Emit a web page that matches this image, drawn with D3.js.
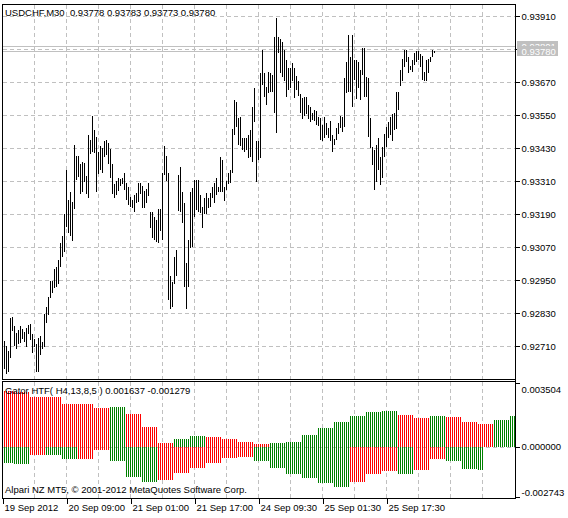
<!DOCTYPE html>
<html>
<head>
<meta charset="utf-8">
<script src="https://cdn.jsdelivr.net/npm/d3@7"></script>
<style>
html,body{margin:0;padding:0;background:#fff;}
svg{display:block;}
text{font-family:"Liberation Sans",Arial,sans-serif;font-size:9.5px;fill:#000;white-space:pre;}
</style>
</head>
<body>
<script>
// chart texts
const symbolTitle="USDCHF,M30  0.93778 0.93783 0.93773 0.93780";
const gatorTitle="Gator HTF( H4,13,8,5 ) 0.001637 -0.001279";
const copyright="Alpari NZ MT5, \u00a9 2001-2012 MetaQuotes Software Corp.";

// M30 bars, high / low (bar 1 = first visible)
const highs=[0.92729,0.92710,0.92693,0.92810,0.92816,0.92782,0.92758,0.92768,0.92782,0.92771,
0.92762,0.92777,0.92786,0.92790,0.92753,0.92737,0.92719,0.92740,0.92746,0.92725,
0.92828,0.92852,0.92889,0.92947,0.92947,0.92989,0.92998,0.93022,0.93086,0.93109,
0.93189,0.93351,0.93242,0.93270,0.93234,0.93440,0.93400,0.93400,0.93373,0.93379,
0.93376,0.93327,0.93476,0.93458,0.93545,0.93494,0.93470,0.93416,0.93436,0.93428,
0.93456,0.93458,0.93448,0.93424,0.93371,0.93298,0.93310,0.93319,0.93315,0.93322,
0.93337,0.93301,0.93288,0.93252,0.93242,0.93258,0.93267,0.93301,0.93303,0.93291,
0.93274,0.93279,0.93301,0.93198,0.93198,0.93180,0.93166,0.93207,0.93207,0.93340,
0.93437,0.93401,0.93338,0.92965,0.92944,0.93035,0.93059,0.93332,0.93362,0.93271,
0.93229,0.93011,0.93095,0.93271,0.93283,0.93313,0.93313,0.93313,0.93259,0.93216,
0.93247,0.93265,0.93247,0.93265,0.93289,0.93301,0.93319,0.93289,0.93398,0.93384,
0.93289,0.93311,0.93338,0.93350,0.93497,0.93602,0.93598,0.93537,0.93541,0.93465,
0.93465,0.93465,0.93477,0.93495,0.93577,0.93646,0.93453,0.93453,0.93701,0.93786,
0.93701,0.93652,0.93707,0.93701,0.93695,0.93834,0.93901,0.93834,0.93824,0.93816,
0.93786,0.93749,0.93719,0.93719,0.93737,0.93719,0.93691,0.93674,0.93626,0.93610,
0.93614,0.93614,0.93586,0.93577,0.93556,0.93568,0.93565,0.93541,0.93537,0.93513,
0.93541,0.93519,0.93501,0.93528,0.93477,0.93461,0.93501,0.93519,0.93546,0.93541,
0.93683,0.93740,0.93840,0.93759,0.93840,0.93749,0.93749,0.93740,0.93711,0.93792,
0.93792,0.93689,0.93683,0.93537,0.93434,0.93422,0.93440,0.93465,0.93398,0.93434,
0.93480,0.93507,0.93525,0.93543,0.93553,0.93556,0.93634,0.93634,0.93713,0.93752,
0.93786,0.93786,0.93761,0.93728,0.93749,0.93776,0.93780,0.93780,0.93771,0.93764,
0.93707,0.93749,0.93752,0.93761,0.93786,0.93783];
const lows=[0.92625,0.92610,0.92616,0.92665,0.92765,0.92710,0.92698,0.92719,0.92722,0.92734,
0.92725,0.92705,0.92753,0.92731,0.92685,0.92705,0.92616,0.92616,0.92679,0.92698,
0.92707,0.92794,0.92822,0.92883,0.92903,0.92919,0.92925,0.92935,0.92998,0.93034,
0.93052,0.93143,0.93119,0.93109,0.93092,0.93206,0.93313,0.93325,0.93264,0.93270,
0.93307,0.93264,0.93246,0.93407,0.93416,0.93410,0.93270,0.93334,0.93349,0.93339,
0.93397,0.93403,0.93373,0.93319,0.93264,0.93246,0.93258,0.93273,0.93291,0.93298,
0.93276,0.93242,0.93222,0.93216,0.93210,0.93198,0.93228,0.93234,0.93264,0.93213,
0.93213,0.93228,0.93255,0.93138,0.93101,0.93095,0.93087,0.93083,0.93126,0.93095,
0.93332,0.93311,0.92877,0.92845,0.92853,0.92936,0.92966,0.93202,0.93198,0.93156,
0.92923,0.92843,0.92926,0.93065,0.93069,0.93180,0.93204,0.93198,0.93192,0.93138,
0.93190,0.93190,0.93210,0.93214,0.93247,0.93231,0.93259,0.93271,0.93271,0.93271,
0.93235,0.93277,0.93299,0.93301,0.93338,0.93477,0.93505,0.93440,0.93437,0.93422,
0.93416,0.93422,0.93392,0.93398,0.93380,0.93525,0.93307,0.93386,0.93392,0.93658,
0.93616,0.93586,0.93628,0.93634,0.93631,0.93556,0.93485,0.93774,0.93701,0.93689,
0.93671,0.93614,0.93640,0.93646,0.93671,0.93610,0.93640,0.93619,0.93556,0.93534,
0.93546,0.93553,0.93534,0.93525,0.93531,0.93529,0.93513,0.93510,0.93459,0.93453,
0.93465,0.93477,0.93465,0.93453,0.93413,0.93440,0.93459,0.93480,0.93501,0.93489,
0.93507,0.93628,0.93634,0.93634,0.93577,0.93677,0.93606,0.93646,0.93604,0.93695,
0.93616,0.93614,0.93468,0.93428,0.93368,0.93277,0.93307,0.93350,0.93295,0.93319,
0.93398,0.93434,0.93465,0.93477,0.93456,0.93495,0.93497,0.93568,0.93655,0.93674,
0.93723,0.93740,0.93701,0.93711,0.93707,0.93731,0.93740,0.93749,0.93725,0.93677,
0.93674,0.93671,0.93703,0.93740,0.93761,0.93773];
const bid=0.93780, ask=0.93801;
const priceTicks=[0.93910,0.93790,0.93670,0.93550,0.93430,0.93310,0.93190,0.93070,0.92950,0.92830,0.92710];

// Gator HTF, one value per H4 block (8 M30 bars)
const gatorUpper=[0.003040,0.003025,0.002760,0.002745,0.002357,0.002345,0.002138,0.002192,0.001827,0.001096,
0.000238,0.000438,0.000603,0.000548,0.000438,0.000292,0.000183,0.000190,0.000292,0.000658,
0.001060,0.001370,0.001699,0.001918,0.001973,0.001772,0.001589,0.001699,0.001644,0.001370,
0.001279,0.001480,0.001700];
const gatorLower=[-0.000895,-0.000932,-0.000438,-0.000445,-0.000658,-0.000650,-0.000164,-0.000749,-0.001644,-0.001900,
-0.001790,-0.001443,-0.001151,-0.000877,-0.000603,-0.000548,-0.000767,-0.001151,-0.001498,-0.001681,
-0.001991,-0.002174,-0.001900,-0.001498,-0.001297,-0.001498,-0.001261,-0.000658,-0.000749,-0.001224,
-0.001240];
const gatorUpperPrev=0.003100, gatorLowerPrev=-0.000850;
const gatorTicks=[0.003504,0,-0.002743];

// time axis
const timeLabels=["19 Sep 2012","20 Sep 09:00","21 Sep 01:00","21 Sep 17:00","24 Sep 09:30","25 Sep 01:30","25 Sep 17:30"];
const timeLabelBars=[0,32,64,96,128,160,192];

const W=568,H=518;
const left=2.5,right=515.5,priceTop=4.5,priceBottom=379.5,gatorTop=381.5,gatorBottom=498.5;
const lastUpperBar=256,lastLowerBar=240;
const GRID="#c0c0c0",RED="#ff0000",GREEN="#008000";

let x=d3.scaleLinear().domain([0,256]).range([2.5,514.5]);
let yPrice=d3.scaleLinear().domain([0.92710,0.93910]).range([346,15.7]);
let yGator=d3.scaleLinear().domain([-0.002743,0.003504]).range([497,383]);

let svg=d3.select("body").append("svg").attr("width",W).attr("height",H)
    .attr("shape-rendering","crispEdges");

// grid
let grid=svg.append("g").attr("stroke",GRID).attr("stroke-dasharray","4,3");
let gridBars=d3.range(16,241,16);
grid.selectAll("line.vp").data(gridBars).enter().append("line")
    .attr("x1",d=>x(d)).attr("x2",d=>x(d)).attr("y1",priceTop).attr("y2",priceBottom);
grid.selectAll("line.vg").data(gridBars).enter().append("line")
    .attr("x1",d=>x(d)).attr("x2",d=>x(d)).attr("y1",gatorTop).attr("y2",gatorBottom);
grid.selectAll("line.h").data(priceTicks).enter().append("line")
    .attr("x1",left).attr("x2",right)
    .attr("y1",d=>Math.round(yPrice(d))+0.5).attr("y2",d=>Math.round(yPrice(d))+0.5);
grid.append("line").attr("x1",left).attr("x2",right)
    .attr("y1",Math.round(yGator(0))+0.5).attr("y2",Math.round(yGator(0))+0.5);

// bid / ask lines
svg.selectAll("line.ba").data([ask,bid]).enter().append("line")
    .attr("stroke",GRID)
    .attr("x1",left).attr("x2",right)
    .attr("y1",d=>Math.round(yPrice(d))+0.5).attr("y2",d=>Math.round(yPrice(d))+0.5);

// price bars
svg.append("g").selectAll("rect").data(highs).enter().append("rect")
    .attr("x",(d,i)=>x(i+1)-0.5)
    .attr("y",d=>Math.round(yPrice(d)))
    .attr("width",1)
    .attr("height",(d,i)=>Math.max(1,Math.round(yPrice(lows[i]))-Math.round(yPrice(d))))
    .attr("fill","#000");

// gator histogram, expanded to M30 bars
function blockBars(vals,prev,last){
    let out=[];
    vals.forEach((v,k)=>{
        let p=k?vals[k-1]:prev;
        let c=Math.abs(v)>Math.abs(p)?GREEN:RED;
        let s=k?8*k-2:1, e=Math.min(8*(k+1)-3,last);
        for(let i=s;i<=e;i++) out.push({i:i,v:v,c:c});
    });
    return out;
}
let zeroY=yGator(0);
let gg=svg.append("g");
gg.selectAll("rect.u").data(blockBars(gatorUpper,gatorUpperPrev,lastUpperBar)).enter().append("rect")
    .attr("x",d=>x(d.i)-0.5).attr("width",1)
    .attr("y",d=>yGator(d.v)).attr("height",d=>zeroY-yGator(d.v))
    .attr("fill",d=>d.c);
gg.selectAll("rect.l").data(blockBars(gatorLower,gatorLowerPrev,lastLowerBar)).enter().append("rect")
    .attr("x",d=>x(d.i)-0.5).attr("width",1)
    .attr("y",zeroY).attr("height",d=>yGator(d.v)-zeroY)
    .attr("fill",d=>d.c);

// frames
let frame=svg.append("g").attr("stroke","#000").attr("fill","none");
frame.append("path").attr("d",`M${left},${priceBottom}V${priceTop}H${right}V${gatorBottom}`);
frame.append("path").attr("d",`M${left},${priceBottom}H${right}`);
frame.append("path").attr("d",`M${left},${gatorBottom}V${gatorTop}H${right}`);
frame.append("path").attr("d",`M${left},${gatorBottom}H${right}`);

// price axis
let pAxis=svg.append("g").attr("transform",`translate(${right},0)`)
    .call(d3.axisRight(yPrice).tickValues(priceTicks).tickFormat(d3.format(".5f"))
        .tickSize(4).tickSizeOuter(0).tickPadding(2));
pAxis.select(".domain").remove();
pAxis.selectAll(".tick").attr("transform",d=>`translate(0,${Math.round(yPrice(d))+0.5})`);
pAxis.attr("font-family",null).attr("font-size",null);

// bid / ask labels
let tags=svg.append("g").selectAll("g").data([ask,bid]).enter().append("g")
    .attr("transform",d=>`translate(${right+1},${Math.round(yPrice(d))})`);
tags.append("rect").attr("x",0).attr("y",-5).attr("width",41).attr("height",10).attr("fill",GRID);
tags.append("text").attr("x",5).attr("y",3.5).style("fill","#fff").text(d=>d3.format(".5f")(d));

// gator axis
let gAxis=svg.append("g").attr("transform",`translate(${right},0)`)
    .call(d3.axisRight(yGator).tickValues(gatorTicks).tickFormat(d=>d.toFixed(6))
        .tickSize(4).tickSizeOuter(0).tickPadding(2));
gAxis.select(".domain").remove();
gAxis.attr("font-family",null).attr("font-size",null);
gAxis.selectAll(".tick text").attr("dy",(d,i)=>i===0?"0.95em":i===2?"-0.2em":"0.32em");

// time axis
let tAxis=svg.append("g").attr("transform",`translate(0,${gatorBottom})`)
    .call(d3.axisBottom(x).tickValues(timeLabelBars).tickFormat((d,i)=>timeLabels[i])
        .tickSize(5).tickSizeOuter(0).tickPadding(1));
tAxis.select(".domain").remove();
tAxis.attr("font-family",null).attr("font-size",null);
tAxis.selectAll(".tick text").attr("text-anchor","start").attr("x",1.5).attr("dy","0.71em");

// titles
svg.append("text").attr("x",5).attr("y",15.5).text(symbolTitle);
svg.append("text").attr("x",5).attr("y",394).text(gatorTitle);
svg.append("text").attr("x",5).attr("y",492.5).text(copyright);
</script>
</body>
</html>
